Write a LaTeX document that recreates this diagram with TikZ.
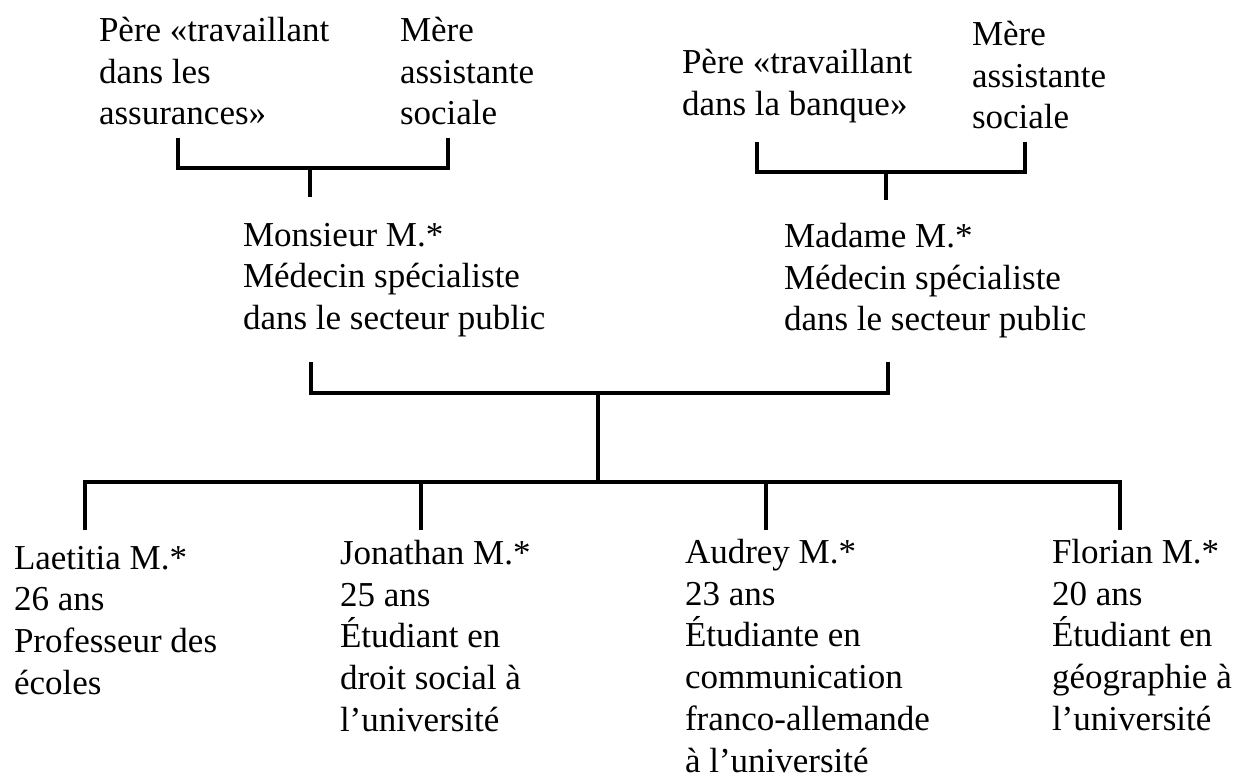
\documentclass[tikz,border=0pt]{standalone}
\usepackage{fontspec}
\setmainfont{Liberation Serif}
\begin{document}
\begin{tikzpicture}[x=1pt,y=-1pt,
  person/.style={anchor=north west, inner sep=0pt, outer sep=0pt, align=left,
                 font=\fontsize{35}{41.8}\selectfont},
  link/.style={line width=4pt, line cap=butt, line join=miter, black}]
\useasboundingbox (0,0) rectangle (1233,776);

% grandparents
\node[person] (pere1) at (99,17)  {Père «travaillant\\dans les\\assurances»};
\node[person] (mere1) at (400,17) {Mère\\assistante\\sociale};
\node[person] (pere2) at (682,49) {Père «travaillant\\dans la banque»};
\node[person] (mere2) at (972,21) {Mère\\assistante\\sociale};

% parents
\node[person] (monsieur) at (243,223) {Monsieur M.*\\Médecin spécialiste\\dans le secteur public};
\node[person] (madame)   at (784,223) {Madame M.*\\Médecin spécialiste\\dans le secteur public};

% children
\node[person] (laetitia) at (14,546)   {Laetitia M.*\\26 ans\\Professeur des\\écoles};
\node[person] (jonathan) at (340,540)  {Jonathan M.*\\25 ans\\Étudiant en\\droit social à\\l’université};
\node[person] (audrey)   at (685,539)  {Audrey M.*\\23 ans\\Étudiante en\\communication\\franco-allemande\\à l’université};
\node[person] (florian)  at (1052,539) {Florian M.*\\20 ans\\Étudiant en\\géographie à\\l’université};

% leg and junction points
\coordinate (lp1) at (178,138);  \coordinate (lm1) at (448,138);
\coordinate (j1)  at (310,168);  \coordinate (s1)  at (310,197);
\coordinate (lp2) at (757,142);  \coordinate (lm2) at (1025,142);
\coordinate (j2)  at (886,172);  \coordinate (s2)  at (886,200);
\coordinate (lh)  at (311,362);  \coordinate (lw)  at (888,362);
\coordinate (jc)  at (598,393);  \coordinate (bar) at (598,482);
\coordinate (c1)  at (85,530);   \coordinate (c2)  at (421,530);
\coordinate (c3)  at (766,530);  \coordinate (c4)  at (1120,530);

% father's parents
\draw[link] (lp1) -- (lp1 |- j1) -- (lm1 |- j1) -- (lm1);
\draw[link] (j1) -- (s1);
% mother's parents
\draw[link] (lp2) -- (lp2 |- j2) -- (lm2 |- j2) -- (lm2);
\draw[link] (j2) -- (s2);
% couple
\draw[link] (lh) -- (lh |- jc) -- (lw |- jc) -- (lw);
\draw[link] (jc) -- (bar);
% siblings
\draw[link] (c1) -- (c1 |- bar) -- (c4 |- bar) -- (c4);
\draw[link] (c2 |- bar) -- (c2);
\draw[link] (c3 |- bar) -- (c3);
\end{tikzpicture}
\end{document}
